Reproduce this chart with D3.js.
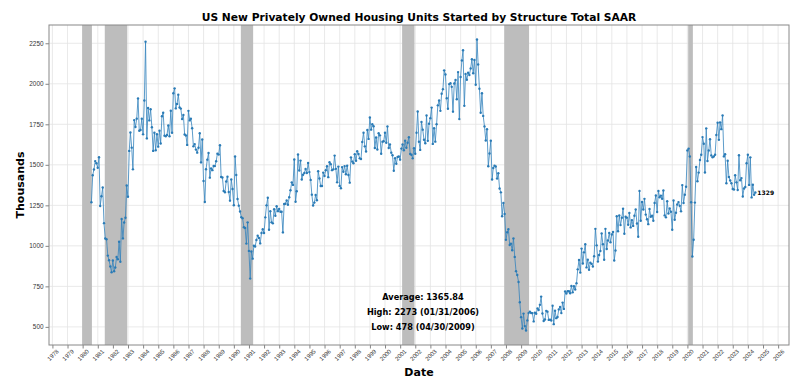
<!DOCTYPE html>
<html>
<head>
<meta charset="utf-8">
<script src="https://cdn.jsdelivr.net/npm/d3@7"></script>
<style>
  body { margin: 0; background: #fff; }
  svg { font-family: "DejaVu Sans", sans-serif; }
</style>
</head>
<body>
<svg width="800" height="385"></svg>
<script>
// monthly housing starts, thousands SAAR, Jul 1980 .. Jun 2024
const startMonth = '1980-07'
const starts = [
  // 1980 (Jul-Dec)
  1269, 1436, 1471, 1523, 1510, 1482,
  // 1981
  1547, 1246, 1306, 1360, 1140, 1045, 1041, 940, 911, 873, 837, 910,
  // 1982
  843, 866, 931, 917, 1025, 902, 1166, 1046, 1144, 1173, 1372, 1303,
  // 1983
  1586, 1699, 1606, 1472, 1776, 1733, 1785, 1910, 1710, 1715, 1785, 1688,
  // 1984
  1897, 2260, 1663, 1851, 1774, 1843, 1732, 1586, 1698, 1590, 1689, 1612,
  // 1985
  1711, 1632, 1800, 1821, 1680, 1676, 1684, 1743, 1676, 1834, 1698, 1942,
  // 1986
  1972, 1848, 1876, 1933, 1854, 1847, 1782, 1807, 1687, 1681, 1623, 1833,
  // 1987
  1774, 1784, 1726, 1614, 1628, 1594, 1575, 1605, 1695, 1515, 1656, 1400,
  // 1988
  1271, 1473, 1532, 1573, 1421, 1478, 1467, 1493, 1492, 1522, 1569, 1563,
  // 1989
  1621, 1425, 1422, 1339, 1331, 1397, 1427, 1332, 1279, 1410, 1351, 1251,
  // 1990
  1551, 1437, 1289, 1248, 1212, 1177, 1171, 1115, 1110, 1014, 1145, 969,
  // 1991
  798, 965, 921, 1001, 996, 1036, 1063, 1049, 1015, 1079, 1103, 1079,
  // 1992
  1176, 1250, 1297, 1099, 1214, 1145, 1139, 1226, 1186, 1244, 1214, 1227,
  // 1993
  1210, 1210, 1083, 1258, 1260, 1280, 1254, 1300, 1343, 1392, 1376, 1533,
  // 1994
  1272, 1337, 1564, 1465, 1526, 1409, 1439, 1450, 1474, 1450, 1511, 1455,
  // 1995
  1407, 1316, 1249, 1267, 1314, 1281, 1461, 1416, 1369, 1369, 1452, 1431,
  // 1996
  1467, 1491, 1424, 1516, 1504, 1467, 1472, 1557, 1475, 1392, 1489, 1370,
  // 1997
  1355, 1486, 1457, 1492, 1442, 1494, 1437, 1390, 1546, 1520, 1510, 1566,
  // 1998
  1525, 1584, 1567, 1540, 1536, 1641, 1698, 1614, 1582, 1715, 1660, 1792,
  // 1999
  1717, 1750, 1738, 1604, 1669, 1595, 1695, 1682, 1568, 1643, 1645, 1698,
  // 2000
  1636, 1737, 1604, 1626, 1575, 1559, 1463, 1541, 1507, 1549, 1551, 1532,
  // 2001
  1600, 1625, 1590, 1649, 1605, 1636, 1670, 1567, 1562, 1540, 1602, 1568,
  // 2002
  1698, 1829, 1642, 1592, 1764, 1717, 1655, 1633, 1804, 1648, 1753, 1788,
  // 2003
  1853, 1629, 1726, 1643, 1751, 1867, 1897, 1833, 1939, 1967, 2083, 2057,
  // 2004
  1911, 1846, 1998, 2003, 1981, 1828, 2002, 2024, 1905, 2072, 1782, 2042,
  // 2005
  2144, 2207, 1864, 2061, 2025, 2068, 2054, 2095, 2151, 2065, 2147, 1994,
  // 2006
  2273, 2119, 1969, 1821, 1942, 1802, 1737, 1650, 1720, 1491, 1570, 1649,
  // 2007
  1409, 1480, 1495, 1490, 1415, 1448, 1354, 1330, 1183, 1264, 1197, 1037,
  // 2008
  1084, 1103, 1005, 1013, 973, 1046, 932, 844, 820, 777, 652, 560,
  // 2009
  490, 582, 505, 478, 540, 585, 594, 586, 585, 534, 588, 581,
  // 2010
  614, 604, 636, 687, 583, 536, 546, 599, 594, 543, 545, 539,
  // 2011
  630, 517, 600, 554, 561, 608, 623, 585, 650, 611, 719, 706,
  // 2012
  720, 720, 708, 753, 713, 751, 731, 770, 855, 913, 835, 983,
  // 2013
  891, 960, 1010, 867, 915, 853, 896, 889, 873, 936, 1105, 1003,
  // 2014
  903, 944, 969, 1077, 1010, 914, 1105, 981, 1033, 1080, 1022, 1070,
  // 2015
  1086, 910, 971, 1183, 1090, 1187, 1128, 1173, 1229, 1075, 1180, 1174,
  // 2016
  1130, 1203, 1114, 1159, 1123, 1186, 1224, 1138, 1056, 1339, 1155, 1271,
  // 2017
  1224, 1290, 1193, 1164, 1134, 1228, 1180, 1186, 1155, 1264, 1311, 1209,
  // 2018
  1339, 1300, 1310, 1291, 1342, 1188, 1176, 1276, 1200, 1231, 1210, 1099,
  // 2019
  1280, 1161, 1204, 1255, 1270, 1247, 1213, 1375, 1264, 1315, 1365, 1589,
  // 2020
  1600, 1551, 1269, 934, 1038, 1267, 1487, 1399, 1452, 1530, 1562, 1671,
  // 2021
  1630, 1453, 1725, 1524, 1588, 1658, 1558, 1546, 1552, 1562, 1684, 1760,
  // 2022
  1654, 1762, 1720, 1805, 1552, 1565, 1386, 1525, 1425, 1403, 1386, 1351,
  // 2023
  1347, 1436, 1392, 1345, 1559, 1405, 1418, 1305, 1354, 1363, 1510, 1562,
  // 2024 (Jan-Jun)
  1376, 1546, 1299, 1377, 1315, 1329
]

// NBER recessions, first month .. last month
const recessions = [
  ['1980-01', '1980-07'],
  ['1981-07', '1982-11'],
  ['1990-07', '1991-03'],
  ['2001-03', '2001-11'],
  ['2007-12', '2009-06'],
  ['2020-02', '2020-04']
]

const yTicks = [500, 750, 1000, 1250, 1500, 1750, 2000, 2250]
const yearTicks = d3.range(1978, 2027)

const statLines = [
  'Average: 1365.84',
  'High: 2273 (01/31/2006)',
  'Low: 478 (04/30/2009)'
]

const svg = d3.select('svg')
const margin = {top: 25, right: 11, bottom: 40, left: 49}
const width = 800, height = 385
const innerW = width - margin.left - margin.right
const innerH = height - margin.top - margin.bottom

const parseMonth = d3.timeParse('%Y-%m')
const monthEnd = d => d3.timeDay.offset(d3.timeMonth.offset(d, 1), -1)

const first = parseMonth(startMonth)
const data = starts.map((v, i) => ({date: monthEnd(d3.timeMonth.offset(first, i)), value: v}))
const bands = recessions.map(r => ({from: parseMonth(r[0]), to: monthEnd(parseMonth(r[1]))}))

// matplotlib-like 5% padding
const xMin = d3.min([bands[0].from, data[0].date])
const xMax = data[data.length - 1].date
const xPad = (xMax - xMin) * 0.05
const x = d3.scaleTime()
  .domain([new Date(+xMin - xPad), new Date(+xMax + xPad)])
  .range([0, innerW])

const yMin = d3.min(starts), yMax = d3.max(starts)
const yPad = (yMax - yMin) * 0.05
const y = d3.scaleLinear()
  .domain([yMin - yPad, yMax + yPad])
  .range([innerH, 0])

const g = svg.append('g').attr('transform', `translate(${margin.left},${margin.top})`)

// grid
g.append('g').selectAll('line').data(yTicks).join('line')
  .attr('x1', 0).attr('x2', innerW)
  .attr('y1', d => y(d)).attr('y2', d => y(d))
  .attr('stroke', '#e3e3e3').attr('stroke-width', 0.8)
g.append('g').selectAll('line').data(yearTicks).join('line')
  .attr('x1', d => x(new Date(d, 0, 1))).attr('x2', d => x(new Date(d, 0, 1)))
  .attr('y1', 0).attr('y2', innerH)
  .attr('stroke', '#e3e3e3').attr('stroke-width', 0.8)

// recession shading
g.append('g').selectAll('rect').data(bands).join('rect')
  .attr('x', d => x(d.from) - 0.5)
  .attr('width', d => x(d.to) - x(d.from) + 1)
  .attr('y', 0).attr('height', innerH)
  .attr('fill', '#bdbdbd')

// series
const line = d3.line().x(d => x(d.date)).y(d => y(d.value))
g.append('path').datum(data)
  .attr('d', line)
  .attr('fill', 'none')
  .attr('stroke', '#3483bd')
  .attr('stroke-width', 0.8)
g.append('g').selectAll('circle').data(data).join('circle')
  .attr('cx', d => x(d.date)).attr('cy', d => y(d.value))
  .attr('r', 1.2)
  .attr('fill', '#2a7bb6')

// last value label
const last = data[data.length - 1]
g.append('text')
  .attr('x', x(last.date) + 2).attr('y', y(last.value))
  .attr('dy', '0.35em')
  .attr('font-size', 6).attr('font-weight', 'bold')
  .text(last.value)

// stats box text
g.append('g').selectAll('text').data(statLines).join('text')
  .attr('x', 374).attr('y', (d, i) => 272 + i * 15)
  .attr('dy', '0.35em')
  .attr('text-anchor', 'middle')
  .attr('font-size', 8.2).attr('font-weight', 'bold')
  .text(d => d)

// axes
const yAxis = g.append('g').call(d3.axisLeft(y).tickValues(yTicks).tickFormat(d3.format('d')).tickSize(3.5).tickPadding(2))
yAxis.selectAll('text').attr('font-size', 6.4).attr('fill', '#333')
const xAxis = g.append('g').attr('transform', `translate(0,${innerH})`)
  .call(d3.axisBottom(x).tickValues(yearTicks.map(d => new Date(d, 0, 1))).tickFormat(d3.timeFormat('%Y')).tickSize(3.5))
xAxis.selectAll('text')
  .attr('font-size', 6).attr('fill', '#333')
  .attr('text-anchor', 'middle')
  .attr('transform', 'translate(0,10) rotate(-45)')
  .attr('y', 0).attr('dy', '0.35em')
svg.selectAll('.domain').remove()
svg.selectAll('.tick line').attr('stroke', '#666').attr('stroke-width', 0.8)

g.append('rect').attr('width', innerW).attr('height', innerH)
  .attr('fill', 'none').attr('stroke', '#888').attr('stroke-width', 1)

// titles
svg.append('text')
  .attr('x', margin.left + innerW / 2).attr('y', 21)
  .attr('text-anchor', 'middle')
  .attr('font-size', 10.7).attr('font-weight', 'bold')
  .text('US New Privately Owned Housing Units Started by Structure Total SAAR')
svg.append('text')
  .attr('x', margin.left + innerW / 2).attr('y', 376)
  .attr('text-anchor', 'middle')
  .attr('font-size', 11).attr('font-weight', 'bold')
  .text('Date')
svg.append('text')
  .attr('transform', `translate(24,${margin.top + innerH / 2}) rotate(-90)`)
  .attr('text-anchor', 'middle')
  .attr('font-size', 11).attr('font-weight', 'bold')
  .text('Thousands')
</script>
</body>
</html>
